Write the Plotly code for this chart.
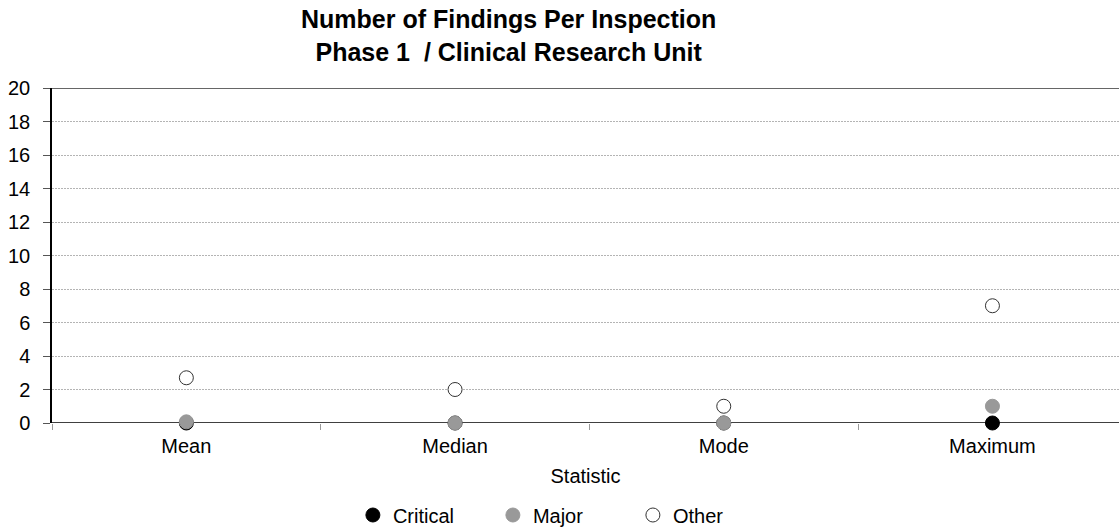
import plotly.graph_objects as go

statistics = ["Mean", "Median", "Mode", "Maximum"]
critical = [0, 0, 0, 0]
major = [0.07, 0, 0, 1]
other = [2.7, 2, 1, 7]

title_lines = ["Number of Findings Per Inspection", "Phase 1&nbsp; / Clinical Research Unit"]

FONT = "Liberation Sans, Arial, sans-serif"

fig = go.Figure()
fig.add_trace(go.Scatter(
    x=statistics, y=critical, name="Critical", mode="markers", cliponaxis=False,
    marker=dict(size=14, color="#000000", line=dict(color="#000000", width=1)),
))
fig.add_trace(go.Scatter(
    x=statistics, y=major, name="Major", mode="markers", cliponaxis=False,
    marker=dict(size=14, color="#999999", line=dict(color="#999999", width=1)),
))
fig.add_trace(go.Scatter(
    x=statistics, y=other, name="Other", mode="markers", cliponaxis=False,
    marker=dict(size=14, color="#ffffff", line=dict(color="#333333", width=1)),
))

fig.update_layout(
    width=1119, height=529,
    margin=dict(l=52, r=0, t=88, b=106, autoexpand=False),
    paper_bgcolor="white", plot_bgcolor="white",
    font=dict(family=FONT, size=20, color="#000000"),
    showlegend=True,
    legend=dict(
        orientation="h", x=0.282, xanchor="left",
        yref="container", y=14 / 529, yanchor="middle",
        font=dict(family=FONT, size=20), entrywidth=95, itemwidth=30,
        traceorder="normal", bgcolor="rgba(0,0,0,0)",
    ),
    xaxis=dict(
        type="category", range=[-0.5, 3.471], automargin=False,
        showgrid=False, showline=False, zeroline=False,
        tickson="boundaries", ticks="outside", ticklen=6, tickcolor="#999999",
        ticklabelstandoff=9,
        tickfont=dict(size=20),
        title=dict(text="Statistic", font=dict(size=20), standoff=12),
    ),
    yaxis=dict(
        range=[0, 20], dtick=2, tick0=0, automargin=False,
        showgrid=True, gridcolor="#b4b4b4", griddash="2px,1px", gridwidth=1,
        showline=True, linecolor="#000000", linewidth=1.5,
        ticks="outside", ticklen=7, tickcolor="#555555",
        ticklabelstandoff=9,
        zeroline=False, tickfont=dict(size=20),
    ),
    annotations=[dict(
        text="<b>" + "<br>".join(title_lines) + "</b>",
        xref="paper", yref="paper", x=0.4283, y=1.2537,
        xanchor="center", yanchor="top", showarrow=False, align="center",
        font=dict(family=FONT, size=25, color="#000000"),
    )],
)

# x axis line at zero and frame line along the top of the plot area
fig.add_shape(type="line", xref="paper", yref="y", x0=0, x1=1, y0=0, y1=0,
              line=dict(color="#000000", width=1.5), layer="below")
fig.add_shape(type="line", xref="paper", yref="y", x0=0, x1=1, y0=20, y1=20,
              line=dict(color="#333333", width=1.5), layer="below")

fig.write_html("out.html")
